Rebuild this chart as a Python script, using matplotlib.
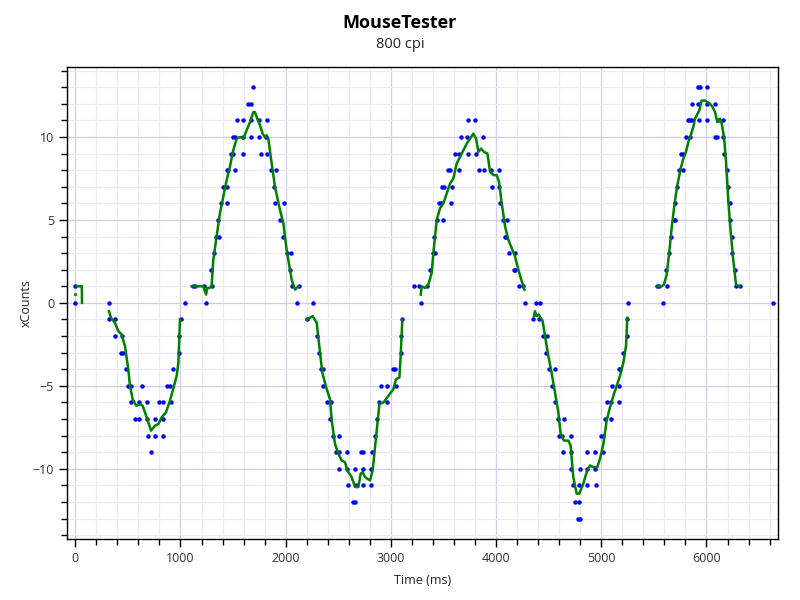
import numpy as np
import matplotlib
matplotlib.use("Agg")
import matplotlib.pyplot as plt
from matplotlib.ticker import MultipleLocator

# Datenpunkte (Zeit in ms, xCounts)
dot_time = [
    0, 0,
    320, 320, 377, 377, 431, 444, 456, 485, 498, 526, 533, 571, 609, 609, 631, 678, 685, 688,
    723, 761, 761, 799, 837, 837, 837, 875, 900, 913, 926, 983, 989, 1002, 1040,
    1115, 1141, 1226, 1242, 1293, 1296, 1315, 1337, 1360, 1369, 1382, 1407, 1439, 1442, 1442,
    1451, 1480, 1496, 1502, 1518, 1521, 1540, 1597, 1597, 1597, 1645, 1667, 1670, 1670, 1689,
    1746, 1746, 1762, 1813, 1826, 1826, 1857, 1892, 1902, 1905, 1946, 1978, 1981, 2009, 2041,
    2051, 2057, 2105, 2127,
    2199, 2257, 2295, 2317, 2333, 2355, 2358, 2396, 2421, 2428, 2447, 2475, 2507, 2510, 2510,
    2580, 2586, 2596, 2643, 2662, 2662, 2669, 2713, 2732, 2738, 2738, 2808, 2814, 2824, 2853,
    2872, 2887, 2910, 2963, 2967, 3017, 3043, 3046, 3093, 3100, 3106,
    3220, 3268, 3284, 3341, 3372, 3404, 3414, 3420, 3436, 3461, 3477, 3483, 3493, 3505, 3547,
    3563, 3569, 3578, 3610, 3648, 3648, 3664, 3721, 3731, 3737, 3800, 3810, 3841, 3873, 3886,
    3956, 3962, 4025, 4025, 4038, 4070, 4086, 4095, 4108, 4123, 4171, 4180, 4184, 4216, 4260,
    4273,
    4354, 4376, 4408, 4422, 4449, 4474, 4481, 4503, 4534, 4557, 4563, 4592, 4601, 4623, 4636,
    4642, 4709, 4715, 4715, 4728, 4747, 4782, 4788, 4791, 4794, 4798, 4867, 4867, 4867, 4940,
    4943, 4953, 4997, 5020, 5020, 5035, 5058, 5089, 5096, 5105, 5168, 5168, 5168, 5178, 5203,
    5241, 5247, 5257,
    5527, 5549, 5584, 5615, 5622, 5641, 5660, 5695, 5698, 5704, 5717, 5739, 5758, 5774, 5780,
    5805, 5821, 5844, 5844, 5859, 5859, 5923, 5923, 5932, 5939, 6005, 6008, 6008, 6078, 6081,
    6097, 6107, 6154, 6154, 6170, 6192, 6202, 6224, 6227, 6240, 6246, 6268, 6281, 6319,
    6630,
]
dot_counts = [
    1, 0,
    0, -1, -1, -2, -3, -2, -3, -4, -5, -5, -6, -7, -6, -7, -5, -7, -6, -8,
    -9, -7, -8, -6, -6, -7, -8, -5, -5, -6, -4, -3, -2, -1, 0,
    1, 1, 1, 0, 2, 1, 3, 4, 5, 4, 6, 7, 8, 6, 7,
    8, 9, 9, 10, 10, 8, 11, 11, 9, 10, 12, 10, 12, 11, 13,
    10, 11, 9, 10, 11, 9, 8, 7, 6, 8, 5, 4, 6, 3, 2,
    3, 1, 0, 1,
    -1, 0, -2, -3, -4, -5, -4, -6, -7, -6, -8, -9, -9, -8, -10,
    -10, -9, -11, -12, -12, -10, -11, -9, -10, -9, -11, -10, -11, -9, -8,
    -7, -6, -5, -6, -5, -4, -4, -5, -3, -2, -1,
    1, 1, 0, 1, 2, 3, 4, 3, 5, 6, 6, 7, 5, 7, 8,
    8, 6, 7, 9, 9, 8, 10, 10, 9, 11, 11, 9, 8, 10, 8,
    8, 7, 8, 7, 6, 5, 4, 4, 5, 3, 2, 3, 2, 1, 1,
    0,
    -1, 0, -1, 0, -2, -3, -2, -4, -5, -4, -6, -7, -8, -8, -9,
    -7, -9, -8, -10, -11, -12, -13, -11, -12, -10, -13, -9, -10, -11, -10,
    -9, -11, -8, -8, -9, -7, -6, -6, -7, -5, -6, -5, -4, -4, -3,
    -2, -1, 0,
    1, 1, 0, 2, 1, 3, 4, 5, 6, 5, 7, 8, 9, 9, 8,
    10, 11, 11, 10, 11, 12, 12, 13, 11, 13, 13, 12, 11, 10, 12,
    10, 11, 11, 10, 9, 8, 7, 5, 6, 4, 3, 2, 1, 1,
    0,
]

# Geglättete Linie (None = Lücke)
line_time = [
    0, 3, None,
    16, 40, None,
    62, 64, None,
    320, 330, 340, 377, 409, 440, 472, 504, 520, 545, 580, 615, 640, 663, 694, 720, 758,
    790, 821, 862, 900, 938, 964, 980, 995, None,
    1106, 1217, 1243, 1255, 1275, 1296, 1312, 1344, 1375, 1407, 1439, 1470, 1502, 1534, 1566,
    1597, 1629, 1661, 1692, 1708, 1730, 1756, 1781, 1803, 1819, 1835, 1867, 1898, 1946, 1978,
    2009, 2057, 2089, 2120, None,
    2199, 2230, 2257, 2295, 2320, 2348, 2390, 2421, 2440, 2469, 2501, 2532, 2564, 2586, 2627,
    2659, 2691, 2713, 2732, 2754, 2776, 2802, 2827, 2859, 2891, 2929, 2976, 3024, 3049, 3081,
    3093, 3109, None,
    3284, 3293, 3325, 3356, 3388, 3404, 3420, 3436, 3467, 3499, 3531, 3563, 3594, 3626, 3658,
    3690, 3721, 3753, 3784, 3810, 3832, 3857, 3886, 3918, 3943, 3975, 4006, 4028, 4054, 4086,
    4117, 4149, 4180, 4212, 4244, 4270, None,
    4360, 4370, 4386, 4405, 4424, 4443, 4465, 4497, 4528, 4560, 4592, 4614, 4645, 4687, 4709,
    4734, 4766, 4791, 4829, 4861, 4893, 4924, 4962, 4988, 5020, 5051, 5083, 5115, 5146, 5178,
    5210, 5235, 5241, 5247, None,
    5533, 5574, 5596, 5622, 5647, 5669, 5695, 5723, 5755, 5780, 5805, 5828, 5850, 5875, 5891,
    5907, 5932, 5954, 5986, 6011, 6034, 6059, 6081, 6103, 6129, 6145, 6167, 6186, 6208, 6230,
    6256, 6281, 6313,
]
line_counts = [
    0.5, 0.5, None,
    1, 1, None,
    1, 0, None,
    -0.5, -0.7, -0.9, -1.2, -1.7, -1.9, -2.6, -4, -5, -5.8, -6.2, -6.1, -6.2, -6.6, -7.2, -7.7, -7.4,
    -7.3, -6.9, -6.6, -5.9, -5, -4.4, -3.6, -1, None,
    1, 1, 0.5, 0.9, 0.9, 1, 2.6, 4, 5.4, 6.4, 7.4, 8.2, 9.2, 9.9, 10,
    9.9, 10.4, 10.9, 11.5, 11.5, 11.1, 10.7, 10.2, 10, 10.1, 9.9, 8.4, 7, 5.6, 4.8,
    3.2, 1.4, 0.8, 1, None,
    -1, -0.9, -0.8, -1.2, -2.6, -4.2, -5.2, -5.8, -7.2, -8.5, -9.1, -9.5, -9.6, -10.1, -10.5,
    -11.1, -11.1, -10.3, -10.2, -10.5, -10.6, -10.7, -10.1, -8.1, -6.1, -6, -5.6, -5.2, -4.6, -4.5,
    -3.2, -1, None,
    0.5, 1, 0.9, 1.1, 1.8, 3, 4, 5, 5.7, 6, 6.6, 7.2, 7.5, 8.4, 8.8,
    9.2, 9.6, 9.9, 10.2, 9.9, 9.1, 9.3, 9.1, 9, 7.9, 7.7, 7.7, 7.3, 6, 4.6,
    3.8, 3.3, 2.8, 2, 1.3, 0.8, None,
    -0.8, -0.5, -0.8, -0.7, -0.9, -1.1, -2, -3.2, -4.2, -5.4, -6.6, -7.9, -8.3, -8.3, -8.6,
    -10.5, -11.5, -11.5, -10.9, -10.2, -9.8, -9.9, -9.9, -9.4, -8.5, -7.1, -6.3, -5.6, -5, -4.4,
    -3.6, -2.6, -1.9, -0.9, None,
    1, 1, 1.1, 1.7, 3.1, 4.5, 5.9, 7.1, 8.1, 8.7, 9.1, 9.7, 10.1, 10.6, 11.1,
    11.3, 11.6, 12.2, 12.2, 12.1, 12, 11.8, 11.5, 10.9, 11.1, 10.8, 10, 8.5, 6.1, 4.3,
    2.5, 1.1, 1,
]

lt = np.array([np.nan if v is None else v for v in line_time], dtype=float)
lc = np.array([np.nan if v is None else v for v in line_counts], dtype=float)

plt.rcParams['font.family'] = ['Open Sans', 'DejaVu Sans']

fig = plt.figure(figsize=(8, 6), dpi=100)
ax = fig.add_axes([0.0841, 0.1012, 0.8884, 0.7866])

ax.plot(dot_time, dot_counts, linestyle='none', marker='o', markersize=3.2,
        markeredgewidth=0, color='#0000ff', zorder=3)
ax.plot(lt, lc, color='#008000', linewidth=1.8, zorder=4)

ax.set_xlim(-76, 6680)
ax.set_ylim(-14.25, 14.2)

ax.xaxis.set_major_locator(MultipleLocator(1000))
ax.xaxis.set_minor_locator(MultipleLocator(200))
ax.yaxis.set_major_locator(MultipleLocator(5))
ax.yaxis.set_minor_locator(MultipleLocator(1))

ax.grid(which='major', color='#cfcfe8', linewidth=0.9, zorder=0)
ax.grid(which='minor', color='#ebebf7', linewidth=0.9, zorder=0)
ax.set_axisbelow(True)

ax.tick_params(which='major', direction='out', length=6, width=1, labelsize=9,
               labelcolor='#333333', color='black')
ax.tick_params(which='minor', direction='out', length=4, width=1, color='black')
for s in ax.spines.values():
    s.set_linewidth(1)
    s.set_color('black')

ax.set_xlabel("Time (ms)", fontsize=9, color='#222222', labelpad=6)
ax.set_ylabel("xCounts", fontsize=9, color='#222222', labelpad=0)

fig.text(0.5, 0.962, "MouseTester", ha='center', va='center', fontsize=13,
         fontweight='bold', color='black')
fig.text(0.5, 0.925, "800 cpi", ha='center', va='center', fontsize=10.5,
         color='#222222')

fig.savefig("out.png", dpi=100)
